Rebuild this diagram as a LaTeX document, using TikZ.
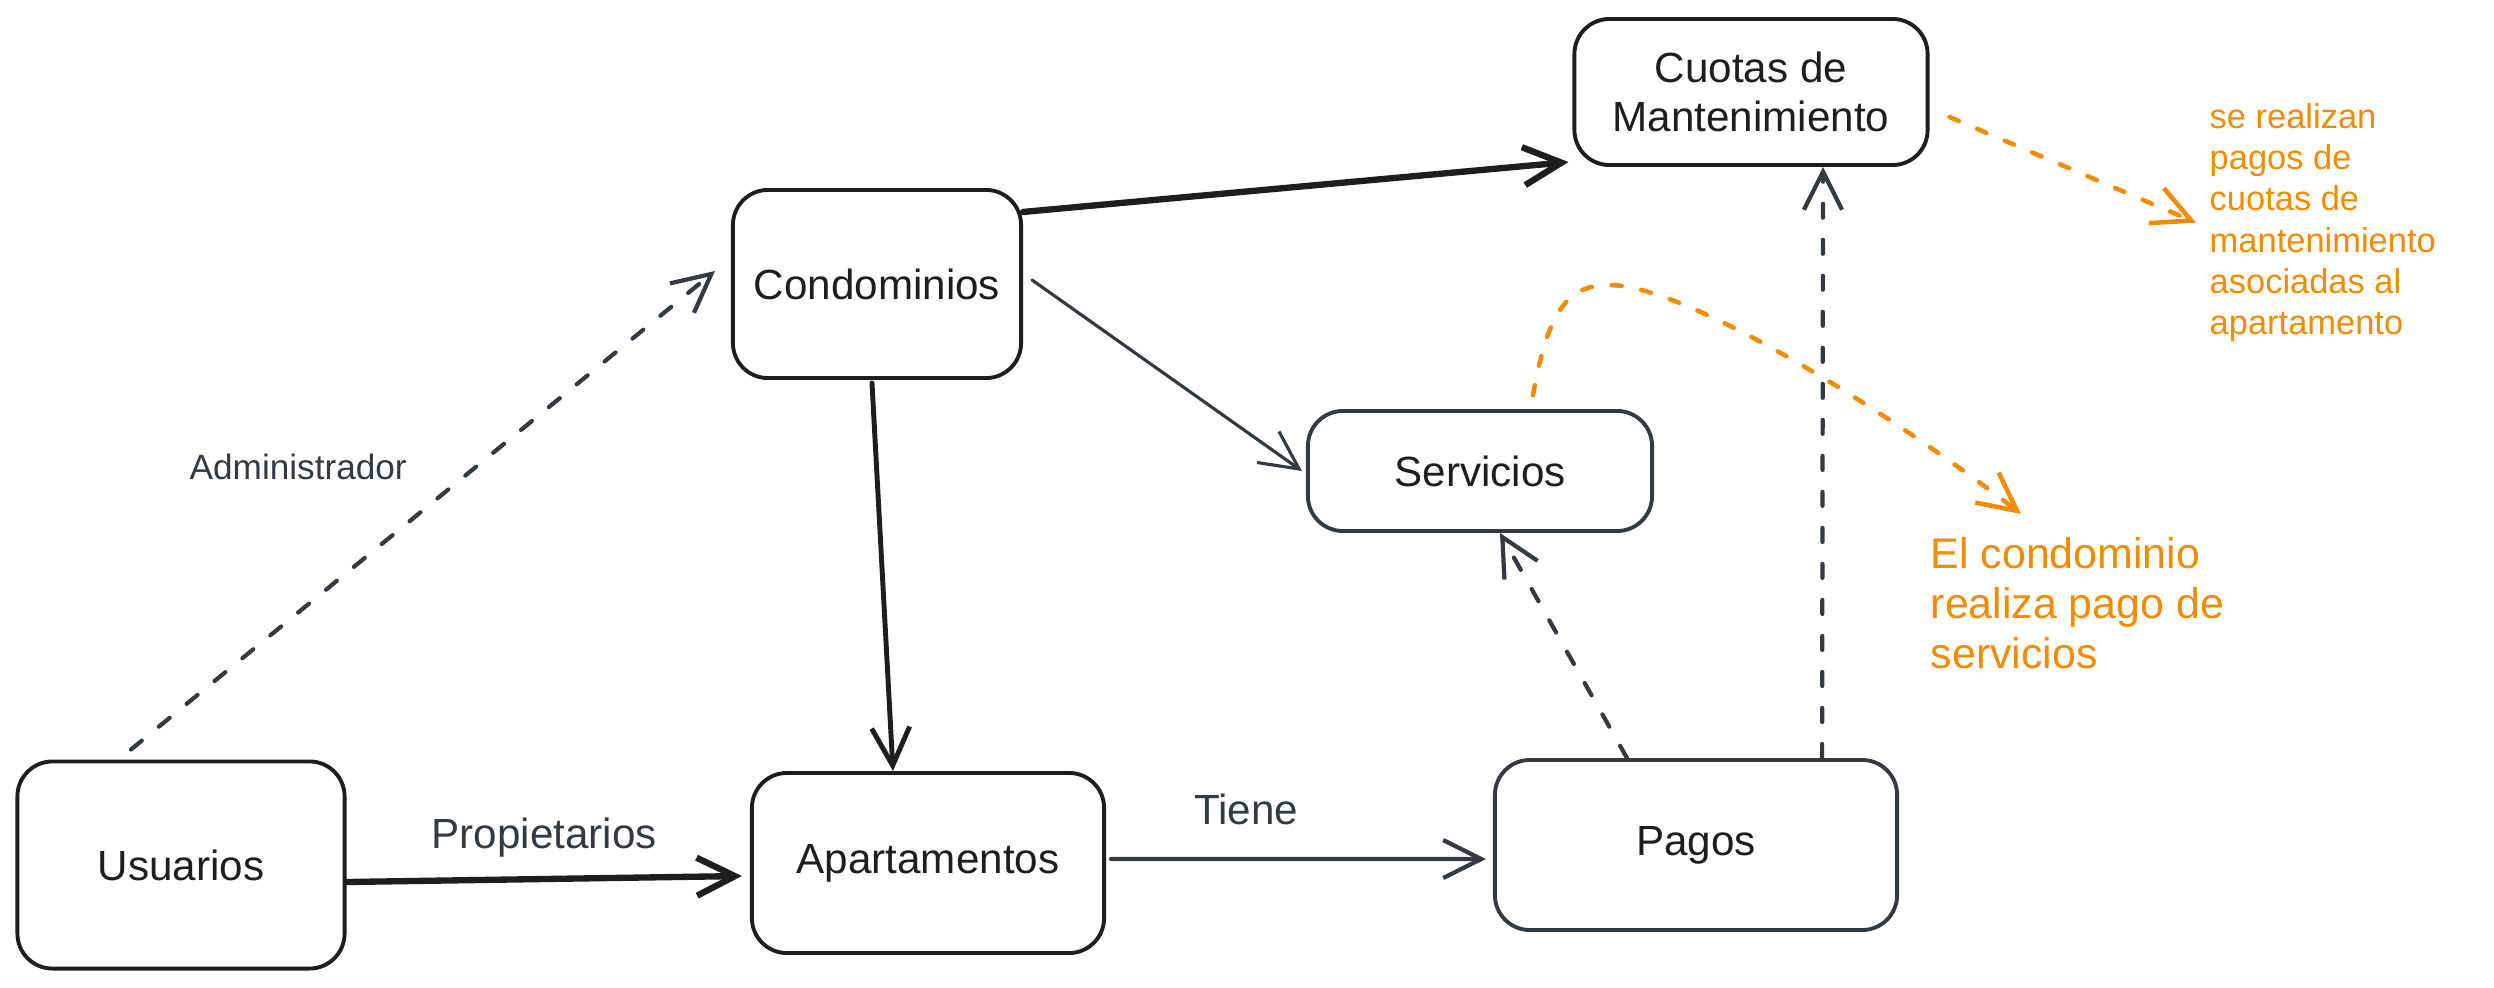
\documentclass[tikz,border=0pt]{standalone}
\usepackage{fontspec}
\setmainfont{Liberation Sans}
\usepackage{tikz}
\usetikzlibrary{arrows.meta,positioning}
\definecolor{EInk}{HTML}{1E1E1E}
\definecolor{EGray}{HTML}{343A40}
\definecolor{EOrange}{HTML}{F08C00}

\begin{document}
\begin{tikzpicture}[
  x=0.01cm,y=-0.01cm,
  every node/.style={font=\fontsize{12}{14}\selectfont,text=EInk},
  box/.style={draw=EInk,line width=1.1pt,rounded corners=0.35cm,align=center,fill=white},
  lbl/.style={text=EGray},
  note/.style={text=EOrange,align=left,inner sep=0pt,anchor=north west},
  arr/.style={-{Straight Barb[length=0.38cm,width=0.38cm]},line width=1pt,color=EGray,line cap=round},
  heavy/.style={arr,line width=1.8pt,color=EInk},
  darr/.style={arr,line width=1.2pt,dash pattern=on 0.14cm off 0.22cm},
  oarr/.style={arr,color=EOrange,line width=1.3pt,dash pattern=on 0.1cm off 0.2cm}
]
  \useasboundingbox (0,0) rectangle (2494,988);
  \fill[white] (0,0) rectangle (2494,988);

  \node[box,minimum width=3.53cm,minimum height=1.46cm] (cuotas) at (1751,92) {Cuotas de\\Mantenimiento};
  \node[box,minimum width=2.88cm,minimum height=1.88cm] (condo) at (877,284) {Condominios};
  \node[box,draw=EGray,minimum width=3.44cm,minimum height=1.2cm] (serv) at (1480,471) {Servicios};
  \node[box,minimum width=3.27cm,minimum height=2.07cm] (usu) at (181,865) {Usuarios};
  \node[box,minimum width=3.52cm,minimum height=1.8cm] (apto) at (928,863) {Apartamentos};
  \node[box,draw=EGray,minimum width=4.02cm,minimum height=1.7cm] (pagos) at (1696,845) {Pagos};

  \node[note,font=\fontsize{9.8}{11.7}\selectfont] (note1) at (2209,103)
    {se realizan\\pagos de\\cuotas de\\mantenimiento\\asociadas al\\apartamento};
  \node[note,font=\fontsize{12.2}{14.2}\selectfont] (note2) at (1930,537)
    {El condominio\\realiza pago de\\servicios};
  \coordinate (tip2) at ([xshift=0.91cm,yshift=0.23cm]note2.north west);

  \draw[darr] ([xshift=-0.5cm,yshift=0.1cm]usu.north) --
    node[lbl,pos=0.59,left=0.55cm,font=\fontsize{10}{12}\selectfont] {Administrador}
    ([xshift=-0.16cm,yshift=0.13cm]condo.west);
  \draw[heavy] ([yshift=0.72cm]condo.east) -- ([xshift=-0.04cm,yshift=-0.7cm]cuotas.west);
  \draw[arr,line width=0.9pt] ([xshift=0.09cm,yshift=0.04cm]condo.east) -- ([xshift=-0.04cm]serv.west);
  \draw[heavy,line width=1.4pt] ([xshift=-0.05cm,yshift=-0.03cm]condo.south) -- ([xshift=-0.35cm]apto.north);
  \draw[heavy] ([yshift=-0.17cm]usu.east) --
    node[lbl,above=0.07cm] {Propietarios}
    ([xshift=-0.08cm,yshift=-0.13cm]apto.west);
  \draw[arr,line width=1.2pt] ([xshift=0.05cm,yshift=0.04cm]apto.east) --
    node[lbl,pos=0.36,above=0.2cm] {Tiene}
    ([xshift=-0.07cm,yshift=-0.14cm]pagos.west);
  \draw[darr] ([xshift=-0.69cm]pagos.north) -- ([xshift=0.2cm]serv.south);
  \draw[darr] ([xshift=1.26cm]pagos.north) -- ([xshift=0.72cm]cuotas.south);

  % notes
  \draw[oarr] ([xshift=0.2cm,yshift=-0.25cm]cuotas.east) -- ([xshift=-0.13cm]note1.west);
  \draw[oarr] ([xshift=0.53cm,yshift=0.14cm]serv.north)
    .. controls (1548,310) and (1568,285) .. (1609,285)
    .. controls (1690,285) and (1900,420) .. (tip2);
\end{tikzpicture}
\end{document}
